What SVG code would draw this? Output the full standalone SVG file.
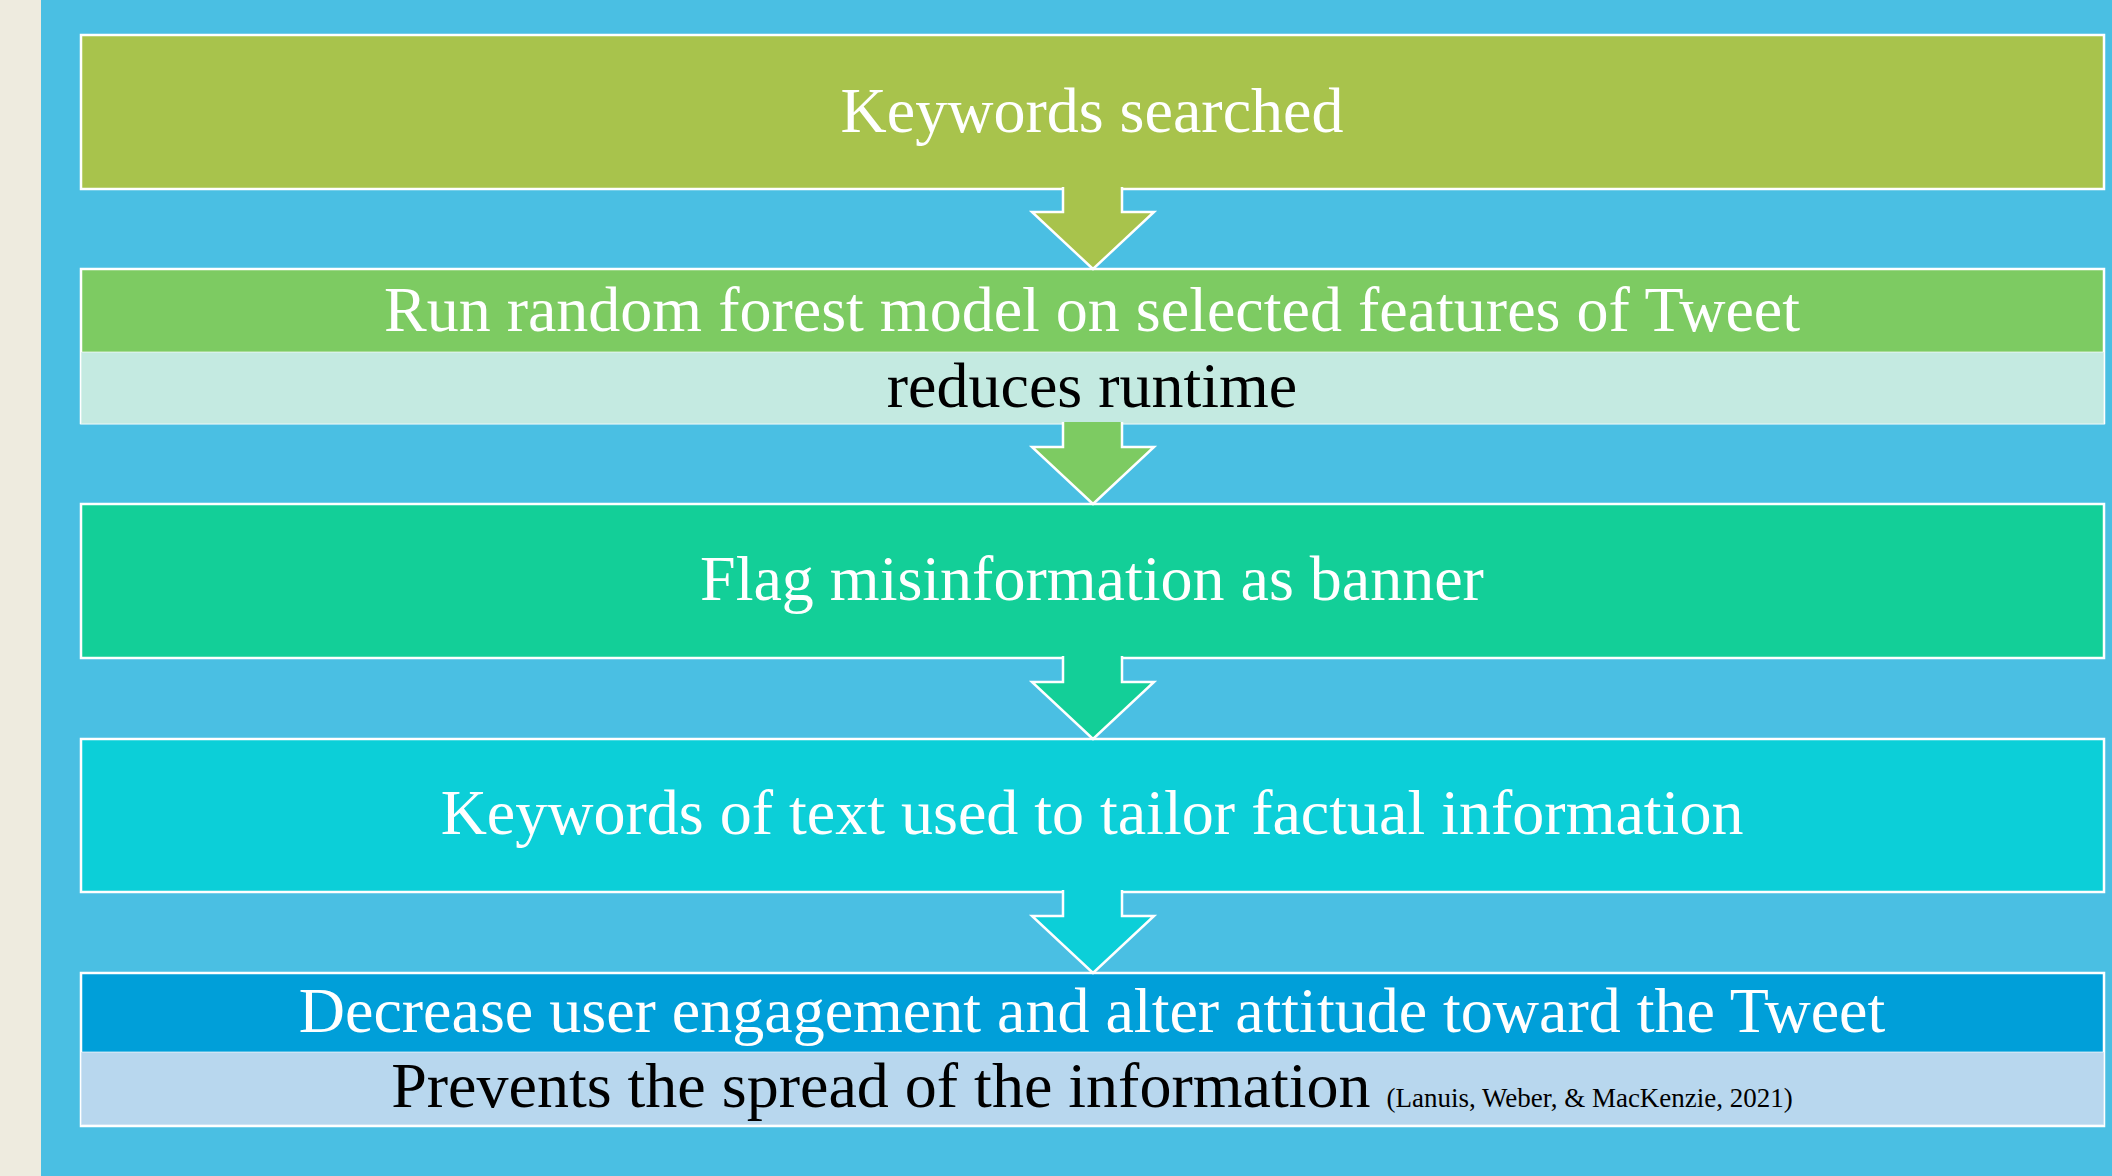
<svg xmlns="http://www.w3.org/2000/svg" width="2112" height="1176" viewBox="0 0 2112 1176">
<style>
.box{stroke:#FFFFFF;stroke-width:2.5}
.band{stroke:#FFFFFF;stroke-opacity:0.45;stroke-width:1.5}
.arrow{stroke:#FFFFFF;stroke-width:2.5;stroke-linejoin:miter}
.t{font-family:"Liberation Serif","Times New Roman",serif;font-size:64px;text-anchor:middle;fill:#FFFFFF}
.dark{fill:#000000}
.cite{font-size:27px}
</style>
<rect x="0" y="0" width="2112" height="1176" fill="#4ABFE3"/>
<rect x="0" y="0" width="41" height="1176" fill="#EEEBDF"/>

<g id="node1">
<rect class="box" x="81" y="35" width="2023" height="154" fill="#A8C34C"/>
<text class="t" x="1092" y="132">Keywords searched</text>
</g>

<g id="node2">
<rect class="box" x="81" y="269" width="2023" height="154" fill="#7DCB62"/>
<rect class="band" x="81" y="352" width="2023" height="72" fill="#C4EAE1"/>
<text class="t" x="1092" y="331">Run random forest model on selected features of Tweet</text>
<text class="t dark" x="1092" y="407">reduces runtime</text>
</g>

<g id="node3">
<rect class="box" x="81" y="504" width="2023" height="154" fill="#13CF98"/>
<text class="t" x="1092" y="600">Flag misinformation as banner</text>
</g>

<g id="node4">
<rect class="box" x="81" y="739" width="2023" height="153" fill="#0CCFD8"/>
<text class="t" x="1092" y="834">Keywords of text used to tailor factual information</text>
</g>

<g id="node5">
<rect class="box" x="81" y="973" width="2023" height="153" fill="#009FD9"/>
<rect class="band" x="81" y="1052" width="2023" height="73" fill="#B8D7EE"/>
<text class="t" x="1092" y="1032">Decrease user engagement and alter attitude toward the Tweet</text>
<text class="t dark" x="1092" y="1107">Prevents the spread of the information <tspan class="cite">(Lanuis, Weber, &amp; MacKenzie, 2021)</tspan></text>
</g>

<g id="connectors">
<path class="arrow" fill="#A8C34C" d="M1063,187 V212 H1032 L1093,269 L1154,212 H1122 V187"/>
<path class="arrow" fill="#7DCB62" d="M1063,422 V447 H1032 L1093,504 L1154,447 H1122 V422"/>
<path class="arrow" fill="#13CF98" d="M1063,656 V682 H1032 L1093,739 L1154,682 H1122 V656"/>
<path class="arrow" fill="#0CCFD8" d="M1063,890 V916 H1032 L1093,973 L1154,916 H1122 V890"/>
</g>
</svg>
